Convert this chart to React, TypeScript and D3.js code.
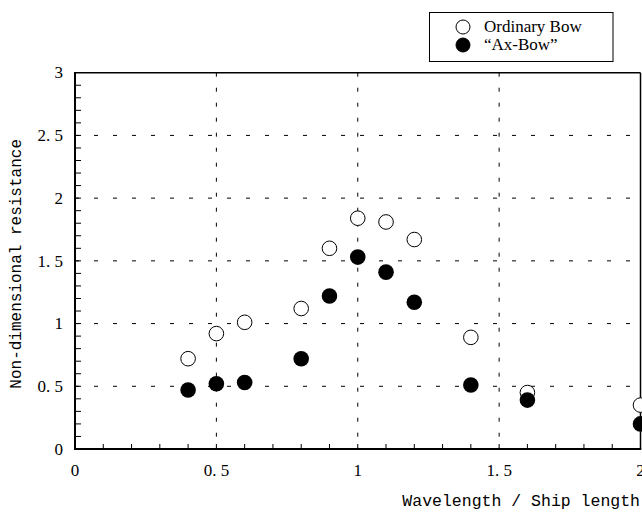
import React, { useRef, useEffect } from 'react';
import * as d3 from 'd3';

// wavelength / ship length
const waveRatio = [0.4, 0.5, 0.6, 0.8, 0.9, 1.0, 1.1, 1.2, 1.4, 1.6, 2.0];
const ordinaryBow = [0.72, 0.92, 1.01, 1.12, 1.6, 1.84, 1.81, 1.67, 0.89, 0.45, 0.35];
const axBow = [0.47, 0.52, 0.53, 0.72, 1.22, 1.53, 1.41, 1.17, 0.51, 0.39, 0.2];

const xTicks = [0, 0.5, 1, 1.5, 2];
const yTicks = [0, 0.5, 1, 1.5, 2, 2.5, 3];
const legendLabels = ['Ordinary Bow', '\u201CAx-Bow\u201D'];

// Japanese style tick text: "0. 5"
const fmt = (v: number) => (Number.isInteger(v) ? String(v) : String(v).replace('.', '. '));

function App() {
  const svgRef = useRef<SVGSVGElement | null>(null);

  useEffect(() => {
    const width = 642;
    const height = 512;
    const left = 75, right = 640.5, top = 72.7, bottom = 449;

    const svg = d3.select(svgRef.current)
      .attr('width', width)
      .attr('height', height);
    svg.selectAll('*').remove();

    const x = d3.scaleLinear().domain([0, 2]).range([left, right]);
    const y = d3.scaleLinear().domain([0, 3]).range([bottom, top]);

    // dashed grid
    svg.append('g')
      .selectAll('line')
      .data(yTicks.filter(d => d > 0 && d < 3))
      .enter()
      .append('line')
      .attr('x1', left).attr('x2', right)
      .attr('y1', d => y(d)).attr('y2', d => y(d))
      .attr('stroke', '#000').attr('stroke-width', 1)
      .attr('stroke-dasharray', '4,15');

    svg.append('g')
      .selectAll('line')
      .data(xTicks.filter(d => d > 0 && d < 2))
      .enter()
      .append('line')
      .attr('x1', d => x(d)).attr('x2', d => x(d))
      .attr('y1', top).attr('y2', bottom)
      .attr('stroke', '#000').attr('stroke-width', 1)
      .attr('stroke-dasharray', '4,11');

    // minor ticks on left and bottom, pointing inward
    const yMinor = d3.range(1, 30).map(i => i / 10);
    const xMinor = d3.range(1, 20).map(i => i / 10);
    svg.append('g')
      .selectAll('line')
      .data(yMinor)
      .enter()
      .append('line')
      .attr('x1', left).attr('x2', left + 6)
      .attr('y1', d => y(d)).attr('y2', d => y(d))
      .attr('stroke', '#000').attr('stroke-width', 1);
    svg.append('g')
      .selectAll('line')
      .data(xMinor)
      .enter()
      .append('line')
      .attr('x1', d => x(d)).attr('x2', d => x(d))
      .attr('y1', bottom).attr('y2', bottom - 5)
      .attr('stroke', '#000').attr('stroke-width', 1);

    // frame
    svg.append('line').attr('x1', left).attr('x2', right).attr('y1', top).attr('y2', top)
      .attr('stroke', '#000').attr('stroke-width', 1.5);
    svg.append('line').attr('x1', right).attr('x2', right).attr('y1', top).attr('y2', bottom)
      .attr('stroke', '#000').attr('stroke-width', 1.5);
    svg.append('line').attr('x1', left).attr('x2', left).attr('y1', top - 0.75).attr('y2', bottom + 1)
      .attr('stroke', '#000').attr('stroke-width', 2);
    svg.append('line').attr('x1', left - 1).attr('x2', right + 0.75).attr('y1', bottom).attr('y2', bottom)
      .attr('stroke', '#000').attr('stroke-width', 2);

    // tick labels
    svg.append('g')
      .selectAll('text')
      .data(yTicks)
      .enter()
      .append('text')
      .attr('x', 63)
      .attr('y', d => y(d))
      .attr('dy', '0.34em')
      .attr('text-anchor', 'end')
      .attr('font-family', '"Liberation Serif", serif')
      .attr('font-size', 17)
      .text(d => fmt(d));

    svg.append('g')
      .selectAll('text')
      .data(xTicks)
      .enter()
      .append('text')
      .attr('x', d => x(d))
      .attr('y', 476)
      .attr('text-anchor', 'middle')
      .attr('font-family', '"Liberation Serif", serif')
      .attr('font-size', 17)
      .text(d => fmt(d));

    // axis titles
    svg.append('text')
      .attr('x', 640)
      .attr('y', 506)
      .attr('text-anchor', 'end')
      .attr('font-family', '"Liberation Mono", monospace')
      .attr('font-size', 16.5)
      .text('Wavelength / Ship length');

    svg.append('text')
      .attr('transform', `translate(21, ${(top + bottom) / 2 + 3}) rotate(-90)`)
      .attr('text-anchor', 'middle')
      .attr('font-family', '"Liberation Mono", monospace')
      .attr('font-size', 16)
      .text('Non-dimensional resistance');

    // points
    svg.append('g')
      .selectAll('circle')
      .data(waveRatio.map((w, i) => ({ w, v: ordinaryBow[i] })))
      .enter()
      .append('circle')
      .attr('cx', d => x(d.w))
      .attr('cy', d => y(d.v))
      .attr('r', 7.3)
      .attr('fill', '#fff')
      .attr('stroke', '#000')
      .attr('stroke-width', 1);

    svg.append('g')
      .selectAll('circle')
      .data(waveRatio.map((w, i) => ({ w, v: axBow[i] })))
      .enter()
      .append('circle')
      .attr('cx', d => x(d.w))
      .attr('cy', d => y(d.v))
      .attr('r', 7.8)
      .attr('fill', '#000');

    // legend
    const lg = svg.append('g');
    lg.append('rect')
      .attr('x', 429.5).attr('y', 12.5)
      .attr('width', 183.5).attr('height', 49)
      .attr('fill', '#fff').attr('stroke', '#000').attr('stroke-width', 1);
    legendLabels.forEach((label, i) => {
      const cy = 27 + i * 18;
      lg.append('circle')
        .attr('cx', 463).attr('cy', cy).attr('r', 7)
        .attr('fill', i === 0 ? '#fff' : '#000')
        .attr('stroke', '#000').attr('stroke-width', 1);
      lg.append('text')
        .attr('x', 484).attr('y', cy + 5)
        .attr('font-family', '"Liberation Serif", serif')
        .attr('font-size', 17)
        .text(label);
    });
  }, []);

  return (
    <div style={{ position: 'absolute', left: 0, top: 0 }}>
      <svg ref={svgRef} style={{ display: 'block' }}></svg>
    </div>
  );
}

export default App;
